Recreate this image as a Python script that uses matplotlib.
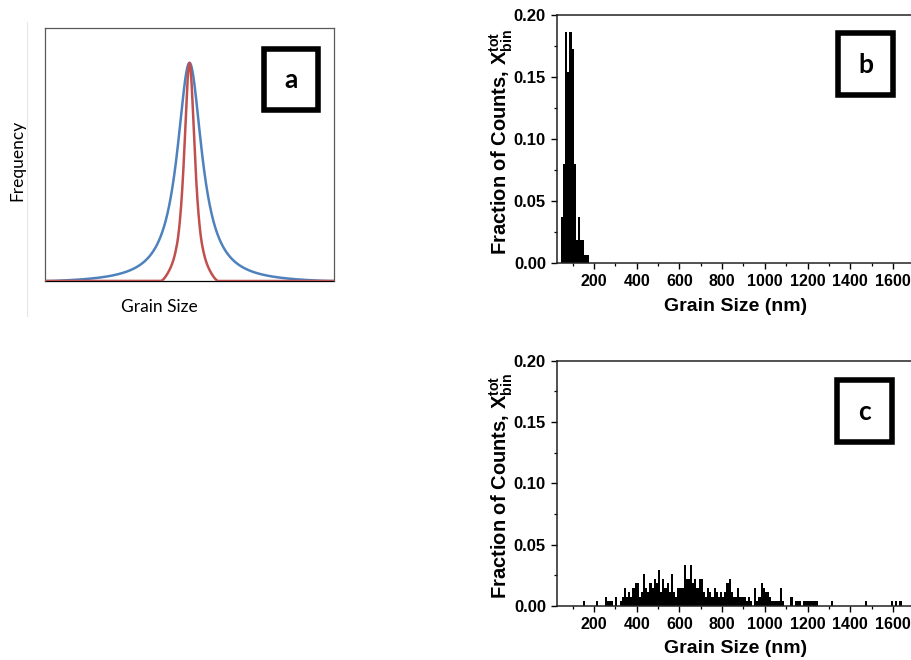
import numpy as np
import matplotlib
matplotlib.use("Agg")
import matplotlib.pyplot as plt
from matplotlib.patches import Rectangle
from matplotlib.lines import Line2D
from matplotlib.ticker import MultipleLocator

plt.rcParams['mathtext.fontset'] = 'custom'
plt.rcParams['mathtext.rm'] = 'Liberation Sans:bold'
plt.rcParams['mathtext.bf'] = 'Liberation Sans:bold'
plt.rcParams['mathtext.it'] = 'Liberation Sans:bold'

# ---- panel (a): schematic peak shapes ----
peak_center = 50.0
broad_hwhm = 5.2
broad_cutoff = 48.0
narrow_hwhm = 2.35
narrow_core_cutoff = 8.0
foot_height = 0.12
foot_knee = 4.6
foot_cutoff = 9.9

# ---- panel (b): fine-grained sample, 10 nm bins ----
b_centers = [50, 60, 70, 80, 90, 100, 110, 120, 130, 140, 150, 160, 170]
b_fraction = [0.037, 0.080, 0.186, 0.154, 0.186, 0.173, 0.080,
              0.019, 0.037, 0.019, 0.019, 0.0067, 0.0067]

# ---- panel (c): coarse-grained sample, 10 nm bins ----
c_centers = [155, 215, 255, 265, 275, 285, 305, 325, 335, 345, 355, 365, 375,
             385, 395, 405, 415, 425, 435, 445, 455, 465, 475, 485, 495, 505,
             515, 525, 535, 545, 555, 565, 575, 585, 595, 605, 615, 625, 635,
             645, 655, 665, 675, 685, 695, 705, 715, 725, 735, 745, 755, 765,
             775, 785, 795, 805, 815, 825, 835, 845, 855, 865, 875, 885, 895,
             905, 915, 925, 935, 955, 965, 975, 985, 995, 1005, 1015, 1025,
             1035, 1045, 1055, 1065, 1075, 1085, 1125, 1145, 1155, 1165, 1185,
             1195, 1205, 1215, 1225, 1235, 1245, 1315, 1475, 1595, 1615, 1635]
c_fraction = [0.0037, 0.0037, 0.0074, 0.0037, 0.0037, 0.0037, 0.0074, 0.0037,
              0.0074, 0.0148, 0.0074, 0.0111, 0.0074, 0.0148, 0.0185, 0.0185,
              0.0074, 0.0111, 0.0259, 0.0148, 0.0111, 0.0185, 0.0148, 0.0222,
              0.0185, 0.0296, 0.0111, 0.0222, 0.0148, 0.0185, 0.0111, 0.0259,
              0.0111, 0.0074, 0.0148, 0.0148, 0.0148, 0.0333, 0.0222, 0.0222,
              0.0333, 0.0185, 0.0222, 0.0148, 0.0222, 0.0222, 0.0111, 0.0074,
              0.0148, 0.0111, 0.0074, 0.0148, 0.0111, 0.0074, 0.0111, 0.0074,
              0.0111, 0.0185, 0.0222, 0.0111, 0.0074, 0.0074, 0.0148, 0.0074,
              0.0074, 0.0074, 0.0037, 0.0074, 0.0037, 0.0148, 0.0037, 0.0074,
              0.0185, 0.0148, 0.0111, 0.0111, 0.0074, 0.0037, 0.0037, 0.0037,
              0.0037, 0.0148, 0.0037, 0.0074, 0.0037, 0.0037, 0.0037, 0.0037,
              0.0037, 0.0037, 0.0037, 0.0037, 0.0037, 0.0037, 0.0037, 0.0037,
              0.0037, 0.0037, 0.0037]

x_major = [200, 400, 600, 800, 1000, 1200, 1400, 1600]
y_major = [0.00, 0.05, 0.10, 0.15, 0.20]

W, H = 911, 660
fig = plt.figure(figsize=(W / 100, H / 100), dpi=100)


def fx(px):
    return px / W


def fy(py):
    return 1 - py / H


def axes_px(left, top, right, bottom):
    return [fx(left), fy(bottom), (right - left) / W, (bottom - top) / H]


def truncated_lorentzian(x, center, hwhm, cutoff):
    lor = 1.0 / (1.0 + ((x - center) / hwhm) ** 2)
    floor_val = 1.0 / (1.0 + (cutoff / hwhm) ** 2)
    return np.clip((lor - floor_val) / (1 - floor_val), 0, None)


# ---------- panel (a) ----------
axa = fig.add_axes(axes_px(45, 28, 334, 281))
x = np.linspace(0, 100, 4001)
broad = truncated_lorentzian(x, peak_center, broad_hwhm, broad_cutoff)
core = truncated_lorentzian(x, peak_center, narrow_hwhm, narrow_core_cutoff)
foot = foot_height * np.clip((foot_cutoff - np.abs(x - peak_center))
                             / (foot_cutoff - foot_knee), 0, 1) ** 1.5
# smooth blend of the sharp core and the low skirt
narrow = (core ** 5 + foot ** 5) ** 0.2
axa.plot(x, broad, color='#4F81BD', lw=1.8, solid_capstyle='butt', zorder=3)
axa.plot(x, narrow, color='#C0504D', lw=1.8, solid_capstyle='butt',
         solid_joinstyle='round', zorder=4)
axa.set_xlim(0, 100)
axa.set_ylim(0, 1.16)
axa.set_xticks([])
axa.set_yticks([])
for s in axa.spines.values():
    s.set_color('#595959')
    s.set_linewidth(0.9)
axa.spines['bottom'].set_color('black')
axa.spines['bottom'].set_zorder(1)

fig.text(fx(17), fy(160), 'Frequency', rotation=90, ha='center', va='center',
         family='Lato', fontsize=12.5, color='black')
fig.text(fx(159), fy(307), 'Grain Size', ha='center', va='center',
         family='Lato', fontsize=12.5, color='black')
fig.add_artist(Line2D([fx(27), fx(27)], [fy(22), fy(316)], color='#e6e6e6',
                      lw=0.8))


def label_box(left, top, right, bottom, letter):
    lw_px = 5.6
    r = Rectangle((fx(left + lw_px / 2), fy(bottom - lw_px / 2)),
                  (right - left - lw_px) / W, (bottom - top - lw_px) / H,
                  transform=fig.transFigure, facecolor='white',
                  edgecolor='black', lw=4.0, joinstyle='miter', zorder=10)
    fig.add_artist(r)
    fig.text(fx((left + right) / 2), fy((top + bottom) / 2 + 1), letter,
             ha='center', va='center', family='Lato', fontweight='bold',
             fontsize=19, zorder=11)


label_box(261, 46, 321, 113, 'a')


# ---------- panels (b) and (c) ----------
def hist_panel(rect, centers, fraction):
    ax = fig.add_axes(rect)
    ax.bar(centers, fraction, width=10, color='black', linewidth=0,
           align='center')
    ax.set_xlim(27, 1750)
    ax.set_ylim(0, 0.20)
    ax.set_xticks(x_major)
    ax.set_yticks(y_major)
    ax.set_yticklabels([f'{v:.2f}' for v in y_major])
    ax.xaxis.set_minor_locator(MultipleLocator(100))
    ax.yaxis.set_minor_locator(MultipleLocator(0.025))
    ax.spines['right'].set_visible(False)
    for s in ax.spines.values():
        s.set_linewidth(1.1)
        s.set_color('#222222')
    ax.tick_params(which='major', direction='out', length=4, width=1.0,
                   pad=4, top=False, right=False)
    ax.tick_params(which='minor', direction='out', length=2.5, width=0.9,
                   top=False, right=False)
    ax.tick_params(axis='x', labelsize=11.5)
    ax.tick_params(axis='y', labelsize=12)
    for lab in ax.get_xticklabels() + ax.get_yticklabels():
        lab.set_family('Liberation Sans')
        lab.set_fontweight('bold')
    ax.set_xlabel('Grain Size (nm)', family='Liberation Sans',
                  fontweight='bold', fontsize=14)
    ax.set_ylabel(r'Fraction of Counts, $\mathbf{X}^{\mathbf{tot}}_{\mathbf{bin}}$',
                  family='Liberation Sans', fontweight='bold', fontsize=14.5)
    ax.xaxis.set_label_coords(0.486, -0.14)
    ax.yaxis.set_label_coords(-0.115, 0.49)
    return ax


axb = hist_panel(axes_px(557, 15, 925, 263.3), b_centers, b_fraction)
label_box(835, 30, 896, 98, 'b')

axc = hist_panel(axes_px(557, 360.7, 925, 606), c_centers, c_fraction)
label_box(834, 377, 895, 445, 'c')

fig.savefig('out.png', dpi=100)
